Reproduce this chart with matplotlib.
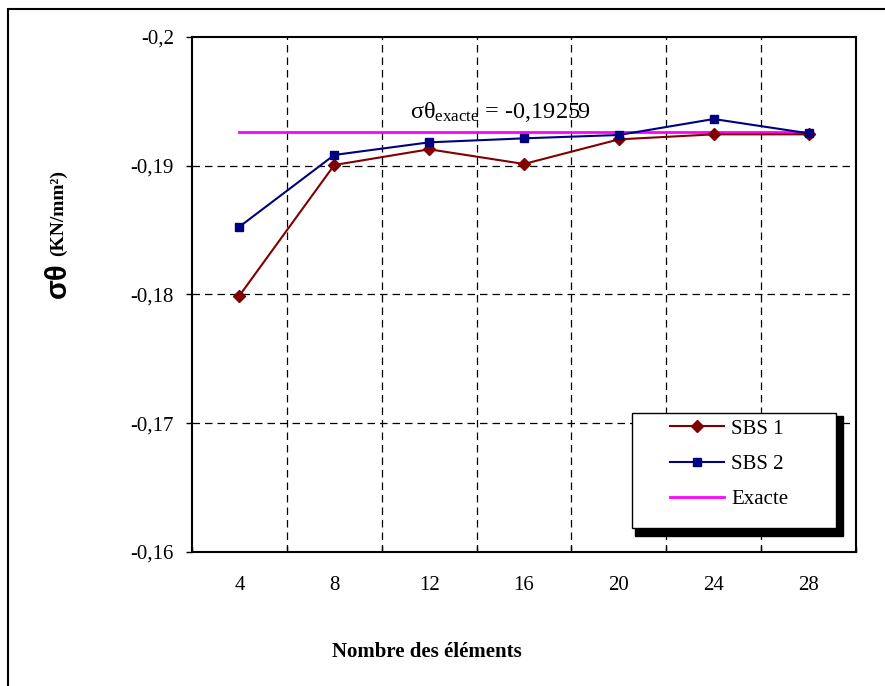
import numpy as np
import matplotlib
matplotlib.use("Agg")
import matplotlib.pyplot as plt
from matplotlib.patches import Rectangle

plt.rcParams['font.family'] = ['Liberation Serif', 'DejaVu Serif']
plt.rcParams['mathtext.fontset'] = 'custom'
plt.rcParams['mathtext.rm'] = 'Liberation Serif'
plt.rcParams['mathtext.it'] = 'Liberation Serif:italic'
plt.rcParams['mathtext.bf'] = 'Liberation Serif:bold'

# Data
categories = ["4", "8", "12", "16", "20", "24", "28"]
sbs1 = [-0.1799, -0.19004, -0.19126, -0.19012, -0.19203, -0.19242, -0.19242]
sbs2 = [-0.18525, -0.19082, -0.1918, -0.19211, -0.19237, -0.19361, -0.1925]
exact_value = -0.19259
exacte = [exact_value] * len(categories)
y_ticks = [-0.2, -0.19, -0.18, -0.17, -0.16]
y_tick_labels = ["-0,2", "-0,19", "-0,18", "-0,17", "-0,16"]

W, H = 885, 686
fig = plt.figure(figsize=(W / 100, H / 100), dpi=100)

def fx(px):
    return px / W

def fy(py):
    return 1 - py / H

# outer chart border
fig.patches.append(Rectangle((fx(8), fy(720)), fx(920) - fx(8), fy(9) - fy(720),
                             transform=fig.transFigure, fill=False,
                             edgecolor='black', lw=1.5, zorder=0))

ax = fig.add_axes([fx(192), fy(552), fx(856) - fx(192), fy(36.7) - fy(552)])
x = np.arange(len(categories))

ax.plot(x, exacte, color='#FF00FF', lw=2, zorder=3, label='Exacte')
ax.plot(x, sbs1, color='#800000', lw=1.5, marker='D', ms=6, zorder=4, label='SBS 1')
ax.plot(x, sbs2, color='#000080', lw=1.5, marker='s', ms=6, zorder=5, label='SBS 2')

ax.set_xlim(-0.5, len(categories) - 0.5)
ax.set_ylim(-0.16, -0.2)

# category boundaries carry ticks and grid; centres carry labels
ax.set_xticks(np.arange(len(categories) + 1) - 0.5)
ax.set_xticklabels([])
ax.set_xticks(x, minor=True)
ax.set_xticklabels(categories, minor=True)
ax.tick_params(axis='x', which='major', direction='in', length=4, width=1)
ax.tick_params(axis='x', which='minor', length=0, pad=17, labelsize=15)
ax.set_yticks(y_ticks)
ax.set_yticklabels(y_tick_labels)
ax.tick_params(axis='y', direction='out', length=4, width=1, pad=9, labelsize=15)

for v in np.arange(1, len(categories)) - 0.5:
    ax.axvline(v, color='black', lw=0.9, ls=(0, (6, 4)), zorder=1)
for v in y_ticks[1:-1]:
    ax.axhline(v, color='black', lw=0.9, ls=(0, (6, 4)), zorder=1)

for s in ax.spines.values():
    s.set_linewidth(1.5)
    s.set_color('black')

ax.text(1.8, -0.1937, r"σθ$_{\rm exacte}$ = -0,19259", fontsize=17.5,
        ha='left', va='baseline', zorder=6)

# legend box with shadow
fig.patches.append(Rectangle((fx(635), fy(536)), fx(843) - fx(635), fy(416) - fy(536),
                             transform=fig.transFigure, facecolor='black',
                             edgecolor='black', zorder=7))
fig.patches.append(Rectangle((fx(632), fy(528)), fx(836) - fx(632), fy(413) - fy(528),
                             transform=fig.transFigure, facecolor='white',
                             edgecolor='black', lw=1, zorder=8))
handles, labels = ax.get_legend_handles_labels()
order = [1, 2, 0]
leg = fig.legend([handles[i] for i in order], [labels[i] for i in order],
                 loc='upper left', bbox_to_anchor=(fx(670), fy(419)),
                 bbox_transform=fig.transFigure, frameon=False, fontsize=15,
                 handlelength=2.6, handletextpad=0.35, labelspacing=0.75,
                 borderpad=0, borderaxespad=0)
leg.set_zorder(9)

fig.text(fx(427), fy(652), "Nombre des éléments", fontsize=15, fontweight='bold',
         ha='center', va='center')

fig.text(fx(58), fy(280), "σθ", family=['Liberation Sans', 'DejaVu Sans'],
         fontsize=21, fontweight='bold', rotation=90, ha='center', va='center')
fig.text(fx(58), fy(213), "(KN/mm²)", fontsize=14, fontweight='bold',
         rotation=90, ha='center', va='center')

fig.savefig("out.png", dpi=100)
